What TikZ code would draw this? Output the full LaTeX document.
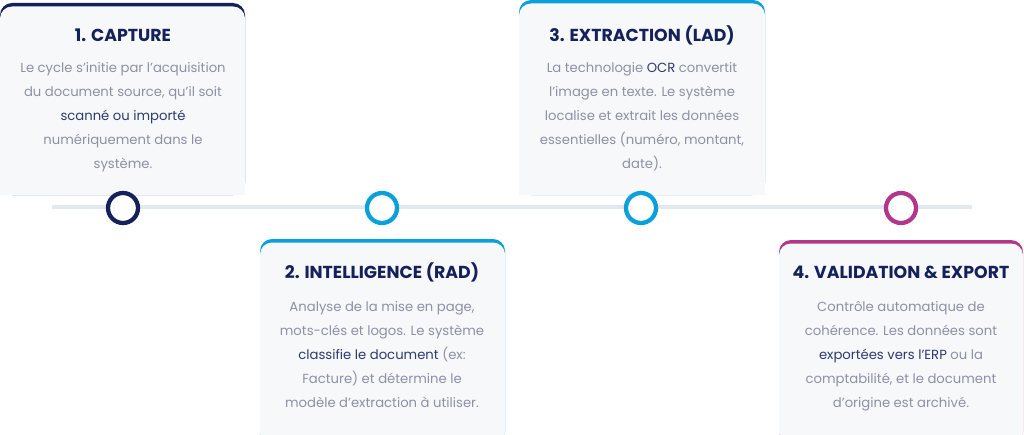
\documentclass[tikz,border=0pt]{standalone}
\usepackage{fontspec}
\setmainfont{Poppins}
\usetikzlibrary{positioning}
\definecolor{navy}{HTML}{14215A}
\definecolor{cyanstep}{HTML}{0AA0DC}
\definecolor{magstep}{HTML}{B4358C}
\definecolor{trackgray}{HTML}{E2E8F0}
\definecolor{cardbg}{HTML}{F7F8FA}
\definecolor{bodygray}{HTML}{8C91A5}
\definecolor{hltext}{HTML}{2E3A6E}
\newcommand{\hl}[1]{{\color{hltext}#1}}
\newcommand{\ap}{\char"0027\relax}

\begin{document}
\begin{tikzpicture}[x=0.75pt, y=-0.75pt,
  cardtitle/.style={font=\bfseries\fontsize{13}{15}\selectfont, text=navy, inner sep=0pt},
  cardbody/.style={font=\fontsize{9.9}{18}\selectfont, text=bodygray, align=center, inner sep=0pt, anchor=north},
  stepdot/.style={circle, draw=#1, line width=3.2pt, fill=white, minimum size=22.5pt, inner sep=0pt}]
\useasboundingbox (0,0) rectangle (1024,435);
\draw[trackgray, line width=2.4pt] (52,207) -- (972,207);
\fill[navy, rounded corners=9] (0,3) rectangle (245,195);
\fill[cardbg, rounded corners=9] (0,6.5) rectangle (245,195);
\fill[cardbg] (0,150) rectangle (245,195);
\fill[cyanstep, rounded corners=9] (260,239) rectangle (505,445);
\fill[cardbg, rounded corners=9] (260,242.5) rectangle (505,445);
\fill[cyanstep, rounded corners=9] (519,0) rectangle (765,195);
\fill[cardbg, rounded corners=9] (519,3.5) rectangle (765,195);
\fill[cardbg] (519,150) rectangle (765,195);
\fill[magstep, rounded corners=9] (779,240) rectangle (1023,445);
\fill[cardbg, rounded corners=9] (779,243.5) rectangle (1023,445);
\node[stepdot=navy] (dot1) at (123,208) {};
\node[stepdot=cyanstep] (dot2) at (382,208) {};
\node[stepdot=cyanstep] (dot3) at (641,208) {};
\node[stepdot=magstep] (dot4) at (901,208) {};
\node[cardtitle] (title1) at (123,35) {1. CAPTURE};
\node[cardbody] (body1) at (123,62.5) {Le cycle s\ap initie par l\ap acquisition\\du document source, qu\ap il soit\\\hl{scanné ou importé}\\numériquement dans le\\système.};
\node[cardtitle] (title2) at (382,272) {2. INTELLIGENCE (RAD)};
\node[cardbody] (body2) at (382,301.5) {Analyse de la mise en page,\\mots-clés et logos. Le système\\\hl{classifie le document} (ex:\\Facture) et détermine le\\modèle d\ap extraction à utiliser.};
\node[cardtitle] (title3) at (642,35) {3. EXTRACTION (LAD)};
\node[cardbody] (body3) at (642,62.5) {La technologie \hl{OCR} convertit\\l\ap image en texte. Le système\\localise et extrait les données\\essentielles (numéro, montant,\\date).};
\node[cardtitle] (title4) at (901,272) {4. VALIDATION \& EXPORT};
\node[cardbody] (body4) at (901,301.5) {Contrôle automatique de\\cohérence. Les données sont\\\hl{exportées vers l\ap ERP} ou la\\comptabilité, et le document\\d\ap origine est archivé.};
\end{tikzpicture}
\end{document}
